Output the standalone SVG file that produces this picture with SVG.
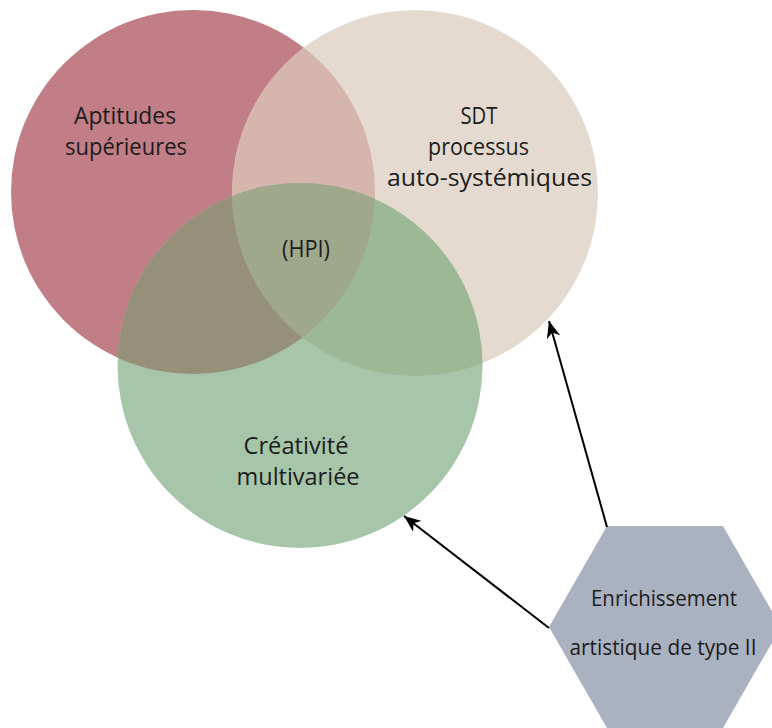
<svg xmlns="http://www.w3.org/2000/svg" width="772" height="728" viewBox="0 0 772 728">
<style>
.lbl{font-family:"Open Sans","Noto Sans","Liberation Sans",sans-serif;font-size:23.5px;fill:#1c1c1c;text-anchor:middle}
.hl{font-size:21.5px}
.conn{stroke:#000;stroke-width:2;fill:none;marker-end:url(#ah)}
</style>
<defs>
<clipPath id="cR"><circle cx="193" cy="192" r="182"/></clipPath>
<clipPath id="cB"><circle cx="415" cy="193" r="183"/></clipPath>
<marker id="ah" markerUnits="userSpaceOnUse" markerWidth="18" markerHeight="14" refX="17" refY="7" orient="auto">
<path d="M0,0 L17,7 L0,14 L5,7 Z" fill="#000"/>
</marker>
</defs>
<rect width="772" height="728" fill="#fff"/>
<g id="circles">
<g id="aptitudes">
<circle cx="193" cy="192" r="182" fill="#c17e87"/>
</g>
<g id="sdt">
<circle cx="415" cy="193" r="183" fill="#e4dad0"/>
<circle cx="415" cy="193" r="183" fill="#d5b5ac" clip-path="url(#cR)"/>
</g>
<g id="creativite">
<circle cx="300" cy="365.5" r="182.5" fill="#a6c5a9"/>
<circle cx="300" cy="365.5" r="182.5" fill="#968f7a" clip-path="url(#cR)"/>
<circle cx="300" cy="365.5" r="182.5" fill="#9db895" clip-path="url(#cB)"/>
<g clip-path="url(#cB)"><circle cx="300" cy="365.5" r="182.5" fill="#a0a88b" clip-path="url(#cR)"/></g>
</g>
<text class="lbl" x="125" y="124" textLength="102" lengthAdjust="spacingAndGlyphs">Aptitudes</text>
<text class="lbl" x="126" y="155" textLength="122" lengthAdjust="spacingAndGlyphs">supérieures</text>
<text class="lbl" x="479" y="124" textLength="37" lengthAdjust="spacingAndGlyphs">SDT</text>
<text class="lbl" x="478.5" y="155" textLength="101" lengthAdjust="spacingAndGlyphs">processus</text>
<text class="lbl" x="489.5" y="186" textLength="205" lengthAdjust="spacingAndGlyphs">auto-systémiques</text>
<text class="lbl" x="306" y="257" textLength="48" lengthAdjust="spacingAndGlyphs">(HPI)</text>
<text class="lbl" x="296" y="454" textLength="105" lengthAdjust="spacingAndGlyphs">Créativité</text>
<text class="lbl" x="298" y="485" textLength="123" lengthAdjust="spacingAndGlyphs">multivariée</text>
</g>
<g id="enrichissement">
<polygon points="607,526 723,526 781,627 723,728 607,728 549,627" fill="#aab2c1"/>
<text class="lbl hl" x="664" y="606" textLength="146" lengthAdjust="spacingAndGlyphs">Enrichissement</text>
<text class="lbl hl" x="663" y="655" textLength="187" lengthAdjust="spacingAndGlyphs">artistique de type II</text>
</g>
<g id="connectors">
<line class="conn" x1="607" y1="527" x2="549" y2="321"/>
<line class="conn" x1="549" y1="628" x2="404" y2="516"/>
</g>
</svg>
